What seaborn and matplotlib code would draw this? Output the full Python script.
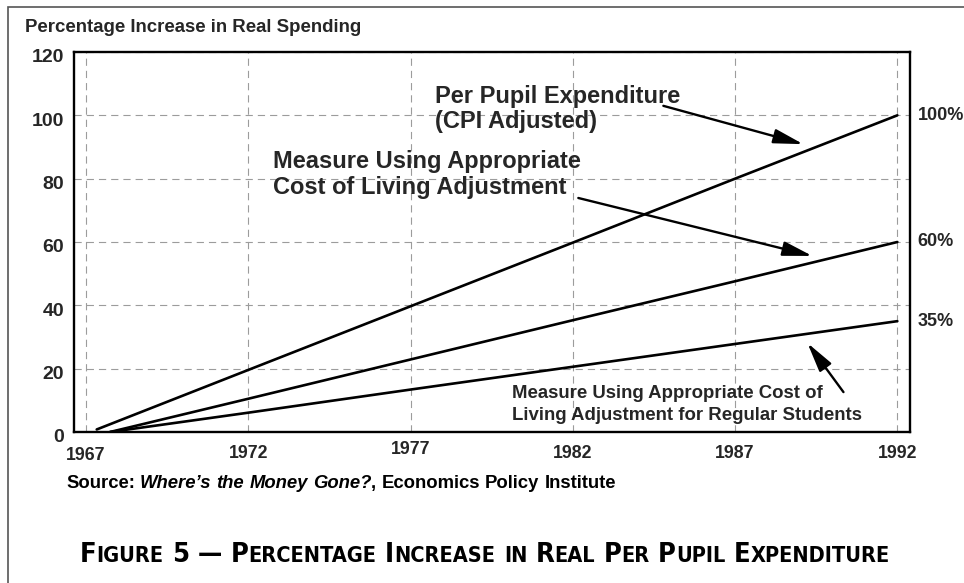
import numpy as np
import pandas as pd
import matplotlib
matplotlib.use("Agg")
import matplotlib.pyplot as plt
import seaborn as sns
from matplotlib import font_manager
from matplotlib.font_manager import FontProperties
from matplotlib.patches import Rectangle
from matplotlib.transforms import ScaledTranslation

# ---------------- data ----------------
cpi_years = [1967.33, 1972, 1977, 1982, 1987, 1992]
cpi_values = [0.8, 19.6, 39.7, 59.8, 80.0, 100.0]
col_years = [1967.74, 1972, 1977, 1982, 1987, 1992]
col_values = [0.0, 10.5, 22.9, 35.3, 47.6, 60.0]
reg_years = [1967.74, 1972, 1977, 1982, 1987, 1992]
reg_values = [0.0, 6.1, 13.4, 20.6, 27.8, 35.0]
x_ticks = [1967, 1972, 1977, 1982, 1987, 1992]
y_ticks = [0, 20, 40, 60, 80, 100, 120]
end_labels = ["100%", "60%", "35%"]
end_values = [100, 60, 35]

W, H = 964, 583

df = pd.concat([
    pd.DataFrame({"year": cpi_years, "value": cpi_values, "series": "cpi"}),
    pd.DataFrame({"year": col_years, "value": col_values, "series": "col"}),
    pd.DataFrame({"year": reg_years, "value": reg_values, "series": "reg"}),
])

sns.set_theme(style="white")
plt.rcParams["font.family"] = ["Liberation Sans", "DejaVu Sans"]
plt.rcParams["font.weight"] = "bold"

fig = plt.figure(figsize=(W / 100, H / 100), dpi=100)
ax = fig.add_axes([74 / W, 1 - 432 / H, 836 / W, 380 / H])

sns.lineplot(data=df, x="year", y="value", hue="series",
             palette=["black"] * 3, lw=1.9, legend=False, ax=ax, zorder=3)

ax.set_xlim(1966.63, 1992.39)
ax.set_ylim(0, 120)
ax.set_xticks(x_ticks)
ax.set_yticks(y_ticks)
ax.set_xlabel("")
ax.set_ylabel("")
ax.grid(True, color="#9c9c9c", lw=0.8, linestyle=(0, (6.5, 4.5)), zorder=1)
for s in ax.spines.values():
    s.set_visible(True)
    s.set_color("black")
    s.set_linewidth(1.7)
    s.set_zorder(4)

ax.tick_params(axis="both", direction="out", length=4, width=0.8,
               color="#9c9c9c")
ax.tick_params(axis="y", labelsize=14, pad=3.2)
ax.tick_params(axis="x", labelsize=12.8, pad=5.0)
for lab in ax.get_yticklabels():
    lab.set_fontweight("bold")
for lab in ax.get_xticklabels():
    lab.set_fontweight("bold")

# end labels
for lab, v in zip(end_labels, end_values):
    ax.text(1992.62, v, lab, ha="left", va="center", fontsize=13,
            fontweight="bold", clip_on=False)

# annotations
arrow = dict(arrowstyle="-|>,head_length=0.9,head_width=0.22",
             mutation_scale=20, lw=1.7, color="black",
             shrinkA=0, shrinkB=0)
ax.text(1977.76, 102.0, "Per Pupil Expenditure\n(CPI Adjusted)",
        ha="left", va="center", fontsize=17, fontweight="bold",
        linespacing=1.16)
ax.annotate("", xy=(1989.10, 90.9), xytext=(1984.79, 103.0),
            arrowprops=arrow)

ax.text(1972.77, 81.3, "Measure Using Appropriate\nCost of Living Adjustment",
        ha="left", va="center", fontsize=17, fontweight="bold",
        linespacing=1.16)
ax.annotate("", xy=(1989.38, 55.6), xytext=(1982.17, 73.9),
            arrowprops=arrow)

ax.text(1980.13, 8.6,
        "Measure Using Appropriate Cost of\nLiving Adjustment for Regular Students",
        ha="left", va="center", fontsize=13.4, fontweight="bold",
        linespacing=1.35)
ax.annotate("", xy=(1989.23, 28.1), xytext=(1990.34, 12.6),
            arrowprops=arrow)

# y title
fig.text(25 / W, 1 - 27 / H, "Percentage Increase in Real Spending",
         ha="left", va="center", fontsize=13.4, fontweight="bold")

# outer frame (top and left edges visible)
fig.add_artist(Rectangle((8 / W, -0.2), 1.5, 1.2 - 7 / H,
                         transform=fig.transFigure, fill=False,
                         ec="#555555", lw=1.2))

# ---------- rich text helpers ----------
fig.canvas.draw()
renderer = fig.canvas.get_renderer()

# small vertical offsets of tick labels, as in the original print
for lab in ax.get_yticklabels():
    lab.set_transform(lab.get_transform() +
                      ScaledTranslation(0, -4 / 100, fig.dpi_scale_trans))
x_shift = {"1967": -2, "1977": 3}
for lab in ax.get_xticklabels():
    dy = x_shift.get(lab.get_text(), 0)
    if dy:
        lab.set_transform(lab.get_transform() +
                          ScaledTranslation(0, dy / 100, fig.dpi_scale_trans))


def tok_width(s, fp):
    w1 = renderer.get_text_width_height_descent("X" + s + "X", fp, ismath=False)[0]
    w0 = renderer.get_text_width_height_descent("XX", fp, ismath=False)[0]
    return w1 - w0


def split_tokens(segments):
    out = []
    for text, fp in segments:
        cur = ""
        for ch in text:
            if ch == " ":
                if cur:
                    out.append((cur, fp))
                    cur = ""
                out.append((" ", fp))
            else:
                cur += ch
        if cur:
            out.append((cur, fp))
    return out


def measure(tokens):
    return sum(tok_width(s, fp) for s, fp in tokens)


def draw_tokens(tokens, x_px, base_px):
    x = x_px
    for s, fp in tokens:
        w = tok_width(s, fp)
        if s != " ":
            fig.text(x / W, 1 - base_px / H, s, fontproperties=fp,
                     ha="left", va="baseline", color="black")
        x += w


# Source line
fp_b = FontProperties(family=["Liberation Sans", "DejaVu Sans"], weight="bold", size=13.3)
fp_bi = FontProperties(family=["Liberation Sans", "DejaVu Sans"], weight="bold",
                       style="italic", size=13.3)
src = split_tokens([("Source: ", fp_b), ("Where\u2019s the Money Gone?", fp_bi),
                    (", Economics Policy Institute", fp_b)])
draw_tokens(src, 66, 488)

# Caption in small caps, condensed face if one is installed
cond_file = None
prefs = ["DejaVuSansCondensed-Bold", "LiberationSansNarrow-Bold",
         "DejaVuSansCondensed.ttf", "LiberationSansNarrow-Regular"]
files = [f.fname for f in font_manager.fontManager.ttflist]
for p in prefs:
    hit = [f for f in files if p in f]
    if hit:
        cond_file = hit[0]
        break

caption = "Figure 5 \u2014 Percentage Increase in Real Per Pupil Expenditure"


def make_fp(size):
    if cond_file:
        return FontProperties(fname=cond_file, size=size)
    return FontProperties(family=["DejaVu Sans"], weight="bold", size=size)


def caption_tokens(L, S):
    fpL, fpS = make_fp(L), make_fp(S)
    runs = []
    for ch in caption:
        if ch.islower():
            item = (ch.upper(), fpS, "S")
        else:
            item = (ch, fpL, "L")
        if runs and runs[-1][2] == item[2] and ch != " " and runs[-1][0] != " ":
            runs[-1] = (runs[-1][0] + item[0], item[1], item[2])
        else:
            runs.append(item)
    return [(s, fp) for s, fp, k in runs]


base_L, base_S = 15.5, 12.4
tot = measure(caption_tokens(base_L, base_S))
scale = min(810.0 / tot, 1.0) if not cond_file else 810.0 / tot
toks = caption_tokens(base_L * scale, base_S * scale)
tot2 = measure(toks)
draw_tokens(toks, 485 - tot2 / 2, 562)

fig.savefig("out.png", dpi=100)
